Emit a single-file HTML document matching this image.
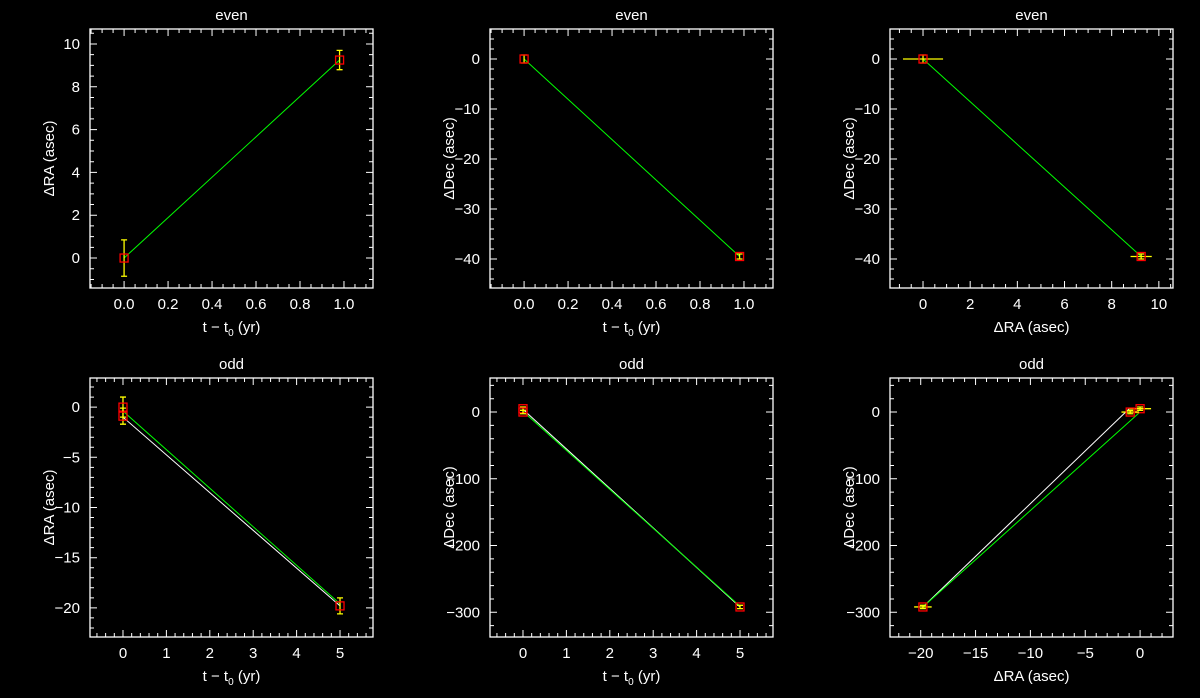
<!DOCTYPE html>
<html><head><meta charset="utf-8"><style>
html,body{margin:0;padding:0;background:#000;}
svg{display:block;}
text{font-family:"Liberation Sans","DejaVu Sans",sans-serif;fill:#fff;font-size:15px;}
</style></head><body>
<svg id="c" width="1200" height="698" viewBox="0 0 1200 698"></svg>
<script>
// data
const evenT = [0, 0.98];
const evenRA = [0, 9.25];
const evenRAerr = [0.85, 0.45];
const evenDec = [0, -39.5];
const evenDecErr = [0.8, 0.5];
const oddT = [0, 0, 5];
const oddRA = [0, -0.9, -19.8];
const oddRAerr = [1.0, 0.8, 0.8];
const oddDec = [5, 0, -292];
const oddDecErr = [2.5, 2.5, 2.5];
// models: [x0,y0,x1,y1] in data units
const p1Green = [0, 0, 0.98, 9.25];
const p2Green = [0, 0, 0.98, -39.5];
const p3Green = [0, 0, 9.25, -39.5];
const p4Green = [0, -0.4, 5, -19.6];
const p4White = [0, -1.0, 5, -19.8];
const p5Green = [0, 1, 5, -291];
const p5White = [0, 4, 5, -292];
const p6Green = [0, 0, -19.8, -292];
const p6White = [-1.0, 5, -19.8, -292];
const xTicks1 = ['0.0','0.2','0.4','0.6','0.8','1.0'];
const xTicks4 = ['0','1','2','3','4','5'];

const svg = document.getElementById('c');
const NS = 'http://www.w3.org/2000/svg';
function mk(tag, attrs, parent){const e=document.createElementNS(NS,tag);for(const k in attrs)e.setAttribute(k,attrs[k]);(parent||svg).appendChild(e);return e;}

const panels = [
 {name:'even-ra-vs-time',title:'even',box:[90,29,373,288],xr:[-0.155,1.132],yr:[-1.4,10.7],xmaj:0.2,xmin:4,xdec:1,ymaj:2,ymin:4,xt:'t',yt:'ΔRA (asec)'},
 {name:'even-dec-vs-time',title:'even',box:[490,29,773,288],xr:[-0.155,1.132],yr:[-45.8,6],xmaj:0.2,xmin:4,xdec:1,ymaj:10,ymin:5,xt:'t',yt:'ΔDec (asec)'},
 {name:'even-dec-vs-ra',title:'even',box:[890,29,1173,288],xr:[-1.4,10.6],yr:[-45.8,6],xmaj:2,xmin:4,xdec:0,ymaj:10,ymin:5,xt:'ΔRA (asec)',yt:'ΔDec (asec)'},
 {name:'odd-ra-vs-time',title:'odd',box:[90,378,373,637],xr:[-0.76,5.76],yr:[-22.9,2.9],xmaj:1,xmin:5,xdec:0,ymaj:5,ymin:5,xt:'t',yt:'ΔRA (asec)'},
 {name:'odd-dec-vs-time',title:'odd',box:[490,378,773,637],xr:[-0.76,5.76],yr:[-337,51],xmaj:1,xmin:5,xdec:0,ymaj:100,ymin:5,xt:'t',yt:'ΔDec (asec)'},
 {name:'odd-dec-vs-ra',title:'odd',box:[890,378,1173,637],xr:[-22.8,3.0],yr:[-337,51],xmaj:5,xmin:5,xdec:0,ymaj:100,ymin:5,xt:'ΔRA (asec)',yt:'ΔDec (asec)'}
];

function fmt(v,d){let s=Math.abs(v)<1e-9?(0).toFixed(d):v.toFixed(d);return s.replace('-','\u2212');}

function drawPanel(p){
 const g=mk('g',{});
 
 
 const [x0,y0,x1,y1]=p.box;
 const sx=v=>x0+(v-p.xr[0])/(p.xr[1]-p.xr[0])*(x1-x0);
 const sy=v=>y1-(v-p.yr[0])/(p.yr[1]-p.yr[0])*(y1-y0);
 p.sx=sx;p.sy=sy;p.g=g;
 const fr=mk('rect',{x:x0,y:y0,width:x1-x0,height:y1-y0,fill:'none',stroke:'#fff','stroke-width':1.3},g);
 
 
 let d='';
 // x ticks
 const xs=p.xmaj/p.xmin;
 for(let i=Math.ceil(p.xr[0]/xs);i*xs<=p.xr[1];i++){
  const v=i*xs,X=sx(v),major=(i%p.xmin===0),L=major?7:4;
  d+=`M${X},${y1}v${-L}M${X},${y0}v${L}`;
  if(major){const t=mk('text',{x:X,y:y1+21,'text-anchor':'middle'},g);t.textContent=fmt(v,p.xdec);
   }
 }
 const ys=p.ymaj/p.ymin;
 for(let i=Math.ceil(p.yr[0]/ys);i*ys<=p.yr[1];i++){
  const v=i*ys,Y=sy(v),major=(i%p.ymin===0),L=major?7:4;
  d+=`M${x0},${Y}h${L}M${x1},${Y}h${-L}`;
  if(major){const t=mk('text',{x:x0-10,y:Y+5,'text-anchor':'end'},g);t.textContent=fmt(v,0);
   }
 }
 mk('path',{d:d,stroke:'#fff','stroke-width':1,fill:'none'},g);
 const ti=mk('text',{x:(x0+x1)/2,y:y0-9,'text-anchor':'middle'},g);ti.textContent=p.title;
 
 const xt=mk('text',{x:(x0+x1)/2,y:y1+44,'text-anchor':'middle'},g);
 if(p.xt==='t'){xt.innerHTML='t \u2212 t<tspan font-size="10" dy="4">0</tspan><tspan dy="-4"> (yr)</tspan>';}else xt.textContent=p.xt;
 
 const yc=(y0+y1)/2;
 const yt=mk('text',{x:x0-36,y:yc,'text-anchor':'middle',transform:`rotate(-90 ${x0-36} ${yc})`},g);yt.textContent=p.yt;
 
}
panels.forEach(drawPanel);

function line(p,m,col,name){const l=mk('line',{x1:p.sx(m[0]),y1:p.sy(m[1]),x2:p.sx(m[2]),y2:p.sy(m[3]),stroke:col,'stroke-width':1},p.g);
 }
function errY(p,x,y,e){const X=p.sx(x),a=p.sy(y-e),b=p.sy(y+e);
 const l=mk('path',{d:`M${X},${a}V${b}M${X-3},${a}h6M${X-3},${b}h6`,stroke:'#ff0','stroke-width':1.3,fill:'none'},p.g);
 }
function errX(p,x,y,e){const Y=p.sy(y),a=p.sx(x-e),b=p.sx(x+e);
 const l=mk('path',{d:`M${a},${Y}H${b}`,stroke:'#ff0','stroke-width':1.3,fill:'none'},p.g);
 }
function box(p,x,y){const r=mk('rect',{x:p.sx(x)-4,y:p.sy(y)-4,width:8,height:8,fill:'none',stroke:'#f00','stroke-width':1.3},p.g);
 }

const [P1,P2,P3,P4,P5,P6]=panels;
line(P1,p1Green,'#0f0','model-line');
evenT.forEach((t,i)=>{errY(P1,t,evenRA[i],evenRAerr[i]);box(P1,t,evenRA[i]);});
line(P2,p2Green,'#0f0','model-line');
evenT.forEach((t,i)=>{errY(P2,t,evenDec[i],evenDecErr[i]);box(P2,t,evenDec[i]);});
line(P3,p3Green,'#0f0','model-line');
evenRA.forEach((r,i)=>{errX(P3,r,evenDec[i],evenRAerr[i]);errY(P3,r,evenDec[i],evenDecErr[i]);box(P3,r,evenDec[i]);});
line(P4,p4White,'#fff','fit-line');line(P4,p4Green,'#0f0','model-line');
oddT.forEach((t,i)=>{errY(P4,t,oddRA[i],oddRAerr[i]);box(P4,t,oddRA[i]);});
line(P5,p5White,'#fff','fit-line');line(P5,p5Green,'#0f0','model-line');
oddT.forEach((t,i)=>{errY(P5,t,oddDec[i],oddDecErr[i]);box(P5,t,oddDec[i]);});
line(P6,p6White,'#fff','fit-line');line(P6,p6Green,'#0f0','model-line');
oddRA.forEach((r,i)=>{errX(P6,r,oddDec[i],oddRAerr[i]);errY(P6,r,oddDec[i],oddDecErr[i]);box(P6,r,oddDec[i]);});
</script>
</body></html>
